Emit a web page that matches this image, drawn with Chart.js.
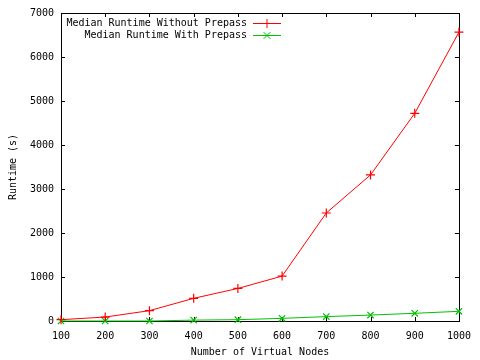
<!DOCTYPE html>
<html>
<head>
<meta charset="utf-8">
<script src="https://cdn.jsdelivr.net/npm/chart.js@4.4.1/dist/chart.umd.min.js"></script>
<style>
html,body{margin:0;padding:0;background:#fff;}
#wrap{width:480px;height:360px;position:relative;}
</style>
</head>
<body>
<div id="wrap"><canvas id="c" width="480" height="360"></canvas></div>
<script>
const nodes = [100, 200, 300, 400, 500, 600, 700, 800, 900, 1000];
const withoutPrepass = [30, 90, 235, 515, 740, 1020, 2455, 3320, 4720, 6565];
const withPrepass = [0, 0, 0, 20, 30, 60, 100, 135, 175, 220];
const seriesLabels = ['Median Runtime Without Prepass', 'Median Runtime With Prepass'];
const xTitle = 'Number of Virtual Nodes';
const yTitle = 'Runtime (s)';

const FONT = {family: '"DejaVu Sans Mono", monospace', size: 10};
const TICK = 4;

const framePlugin = {
  id: 'frame',
  beforeDatasetsDraw(chart) {
    const {ctx, chartArea: a, scales} = chart;
    ctx.save();
    ctx.strokeStyle = '#000';
    ctx.lineWidth = 1;
    ctx.beginPath();
    scales.x.ticks.forEach(t => {
      const px = Math.round(scales.x.getPixelForValue(t.value)) + 0.5;
      ctx.moveTo(px, a.bottom); ctx.lineTo(px, a.bottom - TICK);
      ctx.moveTo(px, a.top); ctx.lineTo(px, a.top + TICK);
    });
    scales.y.ticks.forEach(t => {
      const py = Math.round(scales.y.getPixelForValue(t.value)) + 0.5;
      ctx.moveTo(a.left, py); ctx.lineTo(a.left + TICK, py);
      ctx.moveTo(a.right, py); ctx.lineTo(a.right - TICK, py);
    });
    ctx.stroke();
    ctx.strokeRect(Math.round(a.left) + 0.5, Math.round(a.top) + 0.5,
                   Math.round(a.right - a.left), Math.round(a.bottom - a.top));
    ctx.restore();
  },
  afterDraw(chart) {
    const {ctx, chartArea: a} = chart;
    ctx.save();
    ctx.font = FONT.size + 'px ' + FONT.family;
    ctx.textAlign = 'right';
    ctx.textBaseline = 'middle';
    const textRight = a.left + 186;
    const lineL = a.left + 192, lineR = a.left + 220;
    chart.data.datasets.forEach((ds, i) => {
      const y = Math.round(a.top + 10 + i * 12) + 0.5;
      ctx.fillStyle = '#000';
      ctx.fillText(ds.label, textRight, y);
      ctx.strokeStyle = ds.borderColor;
      ctx.lineWidth = 1;
      ctx.beginPath();
      ctx.moveTo(lineL, y); ctx.lineTo(lineR, y);
      ctx.stroke();
      const cx = (lineL + lineR) / 2, r = 4.5;
      ctx.beginPath();
      if (ds.pointStyle === 'cross') {
        ctx.moveTo(cx - r, y); ctx.lineTo(cx + r, y);
        ctx.moveTo(cx, y - r); ctx.lineTo(cx, y + r);
      } else {
        const d = r * 0.75;
        ctx.moveTo(cx - d, y - d); ctx.lineTo(cx + d, y + d);
        ctx.moveTo(cx - d, y + d); ctx.lineTo(cx + d, y - d);
      }
      ctx.stroke();
    });
    ctx.restore();
  }
};

new Chart(document.getElementById('c'), {
  type: 'line',
  data: {
    datasets: [
      {
        label: seriesLabels[0],
        data: nodes.map((x, i) => ({x, y: withoutPrepass[i]})),
        borderColor: '#ff0000',
        backgroundColor: '#ff0000',
        borderWidth: 1,
        pointStyle: 'cross',
        pointRadius: 4.5,
        pointBorderWidth: 1.2,
        pointHoverRadius: 4.5,
        tension: 0,
        clip: false
      },
      {
        label: seriesLabels[1],
        data: nodes.map((x, i) => ({x, y: withPrepass[i]})),
        borderColor: '#00c000',
        backgroundColor: '#00c000',
        borderWidth: 1,
        pointStyle: 'crossRot',
        pointRadius: 4.5,
        pointBorderWidth: 1.2,
        pointHoverRadius: 4.5,
        tension: 0,
        clip: false
      }
    ]
  },
  options: {
    responsive: false,
    animation: false,
    events: [],
    layout: {padding: {left: 0, right: 19, top: 11, bottom: 0}},
    plugins: {legend: {display: false}, tooltip: {enabled: false}},
    scales: {
      x: {
        type: 'linear',
        min: 100, max: 1000,
        afterFit(s) { s.height = 39; },
        border: {display: false},
        grid: {display: false, drawTicks: false},
        ticks: {stepSize: 100, color: '#000', font: FONT, padding: 9, maxRotation: 0, autoSkip: false,
                callback: v => String(v)},
        title: {display: true, text: xTitle, color: '#000', font: FONT, padding: {top: 0, bottom: 2}}
      },
      y: {
        type: 'linear',
        min: 0, max: 7000,
        afterFit(s) { s.width = 61; },
        border: {display: false},
        grid: {display: false, drawTicks: false},
        ticks: {stepSize: 1000, color: '#000', font: FONT, padding: 7,
                callback: v => String(v)},
        title: {display: true, text: yTitle, color: '#000', font: FONT, padding: {top: 7, bottom: 0}}
      }
    }
  },
  plugins: [framePlugin]
});
</script>
</body>
</html>
